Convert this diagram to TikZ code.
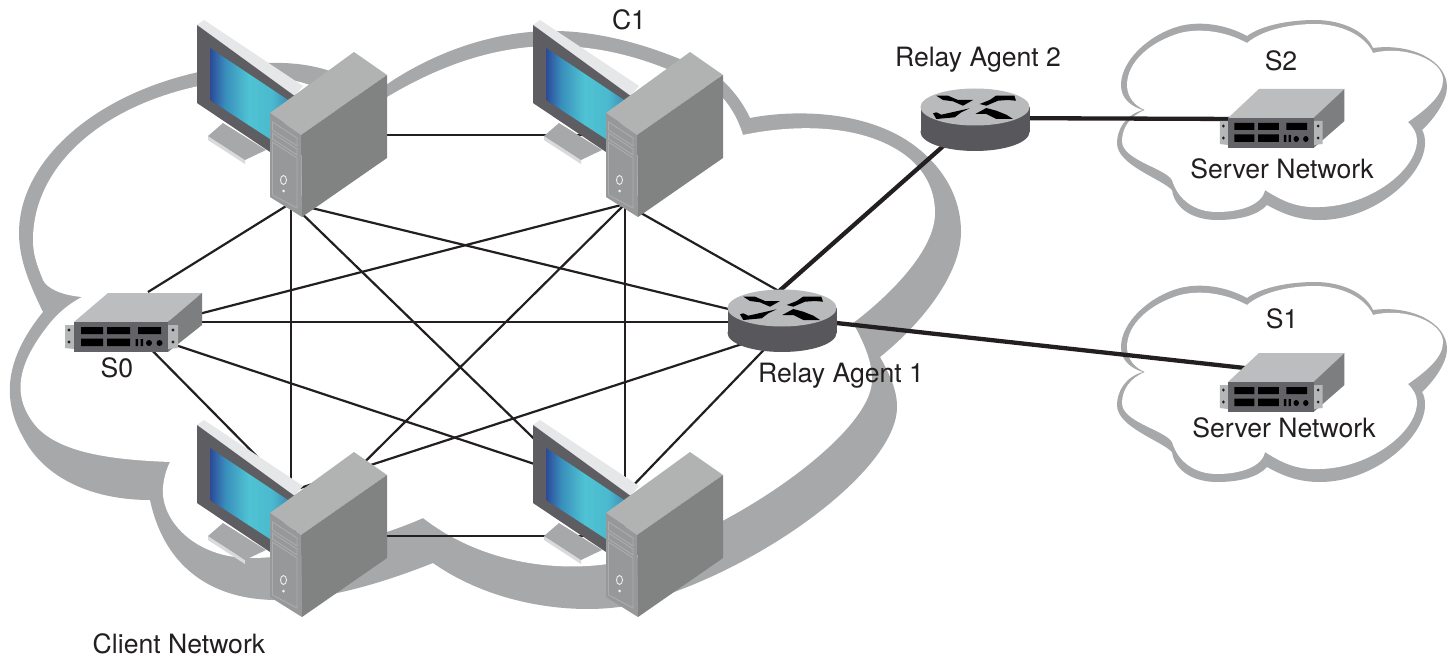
\documentclass[tikz,border=0pt]{standalone}
\usepackage{fontspec}
\setmainfont{TeX Gyre Heros}
\definecolor{band}{HTML}{A7A8AA}
\definecolor{ink}{HTML}{231F20}
\definecolor{framec}{HTML}{5D5D62}
\definecolor{barc}{HTML}{E6E7E9}
\definecolor{towertop}{HTML}{B1B2B2}
\definecolor{towerside}{HTML}{818382}
\definecolor{towerfront}{HTML}{97989A}
\definecolor{towerline}{HTML}{ABACAE}
\definecolor{srvtop}{HTML}{BCBDBF}
\definecolor{srvside}{HTML}{7D7E80}
\definecolor{srvfront}{HTML}{636367}
\definecolor{srvear}{HTML}{B5B6B8}
\definecolor{routertop}{HTML}{B9BABC}
\definecolor{routerside}{HTML}{58585C}
\definecolor{scrA}{HTML}{2B4A9A}
\definecolor{scrB}{HTML}{3A8FBC}
\definecolor{scrC}{HTML}{4FC4D3}
\definecolor{scrD}{HTML}{4BB8CE}
\definecolor{scrE}{HTML}{3C8FB8}
\pgfdeclarehorizontalshading{screenfill}{100bp}{color(0bp)=(scrA); color(25bp)=(scrA); color(35bp)=(scrB); color(50bp)=(scrC); color(65bp)=(scrD); color(75bp)=(scrE); color(100bp)=(scrE)}
\tikzset{
  x=1pt,y=-1pt,
  lan/.style={draw=ink,line width=2.2pt},
  trunk/.style={draw=ink,line width=4.3pt},
  lbl/.style={inner sep=0pt,anchor=base,text=ink,font=\fontsize{26.6}{30}\selectfont},
  computer/.pic={
    % stand
    \fill[barc!80!band] (208,136)--(245,160)--(245,164)--(208,140)--cycle;
    \fill[band] (208,136)--(223,123)--(266,150)--(245,160)--cycle;
    % monitor
    \fill[barc] (197,25)--(204,20)--(303,86)--(293,97)--cycle;
    \fill[framec] (197,25)--(197,103)--(270,152)--(296,97)--cycle;
    \shade[shading=screenfill]
      (210,48)--(210,100)--(270,139)--(288,100)--cycle;
    % tower
    \fill[towertop] (270,113)--(354,52)--(387,75)--(301,135)--cycle;
    \fill[towerside] (301,135)--(387,75)--(387,158)--(302,217)--cycle;
    \fill[towerfront] (270,113)--(301,135)--(302,217)--(270,197)--cycle;
    \draw[towerline,line width=.9pt] (272.5,122)--(297,138)--(297,146)--(272.5,130)--cycle;
    \draw[towerline,line width=.9pt] (272.5,133)--(297,149)--(297,155)--(272.5,139)--cycle;
    \draw[towerline,line width=.9pt] (272.5,142)--(297,158)--(297,208)--(272.5,195)--cycle;
    \draw[white!85!towerfront,line width=.9pt] (283.5,180) ellipse (3 and 4.5);
    \fill[white!85!towerfront] (283.5,191) circle (1.5);
  },
  server/.pic={
    \fill[srvtop] (0,0)--(34,-29)--(128,-29)--(94,0)--cycle;
    \fill[srvside] (94,0)--(128,-29)--(128,3)--(94,30)--cycle;
    \fill[srvear] (-9,3)--(0,3)--(0,27)--(-9,26)--cycle;
    \fill[srvear] (94,3)--(104,3)--(104,26)--(94,27)--cycle;
    \fill[srvfront] (0,0)--(94,0)--(94,30)--(0,30)--cycle;
    \fill[ink] (-5,8) circle (1.6) (-5,20) circle (1.6) (99,8) circle (1.6) (99,20) circle (1.6);
    \fill[black] (7,5) rectangle (29,12) (33,5) rectangle (56,12) (64,5) rectangle (87,12)
      (7,16.5) rectangle (29,24) (33,16.5) rectangle (56,24)
      (61.5,17) rectangle (64,24) (66.5,17) rectangle (69,24);
    \fill[black] (75,21) circle (3) (85.5,21) circle (3);
  },
  router/.pic={
    \fill[routerside] (0,25) ellipse (54.5 and 19);
    \fill[routerside] (-54.5,0) rectangle (54.5,25);
    \fill[routertop] (0,0) ellipse (54.5 and 18.5);
    \fill[black,line join=round] (-38.7,-11.3)--(-27,-11.3)--(-17,-7)--(-2,-7)--(-12,-1.3)--(-22,-5.7)--(-32,-7)--cycle;
    \fill[black,line join=round] (4.7,-3)--(14.7,-7)--(21,-11.3)--(39.3,-11.3)--(41,-6.3)--(33,-7)--(23,-6.3)--(11.3,-1.3)--cycle;
    \fill[black,line join=round] (-42,6.3)--(-38.7,5.3)--(-33.7,7.7)--(-5.3,1.3)--(-13.7,5.3)--(-20.3,10.3)--(-38.7,12)--cycle;
    \fill[black,line join=round] (0.3,7)--(11.3,1)--(21.3,3.7)--(31.3,7.7)--(38,12)--(21.3,12)--(11.3,7)--cycle;
  },
  minicloud/.pic={
    \fill[band] (1247,36) .. controls (1225,24) and (1200,21) .. (1180,26) .. controls (1150,34) and (1121,60) .. (1121,85) .. controls (1121,98) and (1130,106) .. (1143,110)
      .. controls (1125,115) and (1117,130) .. (1117,143) .. controls (1117,165) and (1160,178) .. (1172,190)
      .. controls (1175,210) and (1195,220) .. (1217,220) .. controls (1240,220) and (1258,215) .. (1267,205)
      .. controls (1285,215) and (1300,220) .. (1320,220) .. controls (1375,220) and (1425,175) .. (1425,143) .. controls (1425,137) and (1424,133) .. (1422,130)
      .. controls (1435,118) and (1447,100) .. (1447,87) .. controls (1447,60) and (1410,43) .. (1373,48)
      .. controls (1365,30) and (1340,20) .. (1315,20) .. controls (1290,20) and (1262,25) .. (1247,36) -- cycle;
    \fill[white] (1247,43) .. controls (1225,31) and (1200,28) .. (1180,33) .. controls (1150,42) and (1127,62) .. (1127,85) .. controls (1127,97) and (1135,106) .. (1145,110)
      .. controls (1130,116) and (1122,128) .. (1122,141) .. controls (1122,160) and (1165,168) .. (1172,180)
      .. controls (1178,200) and (1195,212) .. (1217,212) .. controls (1240,212) and (1262,205) .. (1265,190)
      .. controls (1285,203) and (1300,208) .. (1320,207) .. controls (1370,206) and (1417,170) .. (1417,140) .. controls (1417,133) and (1413,127) .. (1408,122)
      .. controls (1428,108) and (1443,95) .. (1443,80) .. controls (1443,60) and (1405,45) .. (1373,53)
      .. controls (1365,35) and (1340,24) .. (1315,24) .. controls (1290,24) and (1262,30) .. (1247,43) -- cycle;
  }
}
\begin{document}
\begin{tikzpicture}
\useasboundingbox (0,0) rectangle (1453,658);
\fill[white] (0,0) rectangle (1453,658);
% client cloud
\fill[band] (43,312) .. controls (30,285) and (19,260) .. (19,233) .. controls (19,150) and (120,70) .. (267,63) .. controls (295,62) and (320,66) .. (340,75)
  -- (360,105) .. controls (400,70) and (470,32) .. (550,31) .. controls (610,30) and (680,55) .. (722,80) .. controls (733,90) and (743,103) .. (750,118)
  .. controls (790,110) and (870,108) .. (920,150) .. controls (950,175) and (961,205) .. (961,232) .. controls (961,275) and (920,325) .. (880,357)
  .. controls (890,375) and (897,390) .. (897,407) .. controls (897,470) and (760,570) .. (640,603) .. controls (590,616) and (500,610) .. (433,563)
  .. controls (390,580) and (330,600) .. (277,600) .. controls (215,600) and (165,570) .. (150,500)
  .. controls (95,500) and (45,480) .. (23,437) .. controls (5,405) and (0,365) .. (43,312) -- cycle;
\fill[white] (82,297) .. controls (60,295) and (47,288) .. (43,280) .. controls (37,265) and (33,255) .. (33,240) .. controls (33,155) and (125,85) .. (260,78) .. controls (285,77) and (310,82) .. (330,95)
  -- (345,125) .. controls (400,85) and (470,47) .. (550,46) .. controls (610,45) and (670,65) .. (722,97) .. controls (732,108) and (739,122) .. (743,135)
  .. controls (790,125) and (860,122) .. (905,155) .. controls (925,170) and (935,190) .. (935,213) .. controls (935,250) and (890,295) .. (853,323)
  .. controls (865,345) and (872,362) .. (872,380) .. controls (872,430) and (750,520) .. (640,557) .. controls (580,575) and (490,570) .. (423,518)
  .. controls (385,535) and (310,558) .. (250,558) .. controls (195,558) and (160,520) .. (163,487) .. controls (164,478) and (166,470) .. (170,462)
  .. controls (120,460) and (60,455) .. (35,425) .. controls (15,400) and (12,370) .. (50,323) .. controls (58,313) and (70,303) .. (82,297) -- cycle;
% server clouds
\pic (cloudS2) at (0,0) {minicloud};
\pic (cloudS1) at (0,262) {minicloud};
% connector ends
\coordinate (tl) at (291,203);
\coordinate (tlr) at (380,135);
\coordinate (tr) at (625,204);
\coordinate (trl) at (600,135);
\coordinate (so) at (133,331);
\coordinate (soc) at (148,292);
\coordinate (som) at (133,322);
\coordinate (bla) at (291,491);
\coordinate (blb) at (291,535);
\coordinate (blc) at (380,536);
\coordinate (bra) at (625,494);
\coordinate (brb) at (625,527);
\coordinate (brc) at (600,536);
\coordinate (ra) at (782,322);
\coordinate (rb) at (782,331);
\coordinate (rc) at (800,303);
\coordinate (rd) at (760,308);
\coordinate (re) at (782,317);
\coordinate (rf) at (975,118);
\coordinate (sa) at (1290,373);
\coordinate (sb) at (1240,119);
% thin links
\draw[lan] (tlr)--(trl);
\draw[lan] (tl)--(soc);
\draw[lan] (tl)--(bla);
\draw[lan] (tl)--(brb);
\draw[lan] (tl)--(ra);
\draw[lan] (tr)--(so);
\draw[lan] (tr)--(blb);
\draw[lan] (tr)--(bra);
\draw[lan] (tr)--(rc);
\draw[lan] (som)--(ra);
\draw[lan] (so)--(bra);
\draw[lan] (so)--(bla);
\draw[lan] (bla)--(rb);
\draw[lan] (blc)--(brc);
\draw[lan] (bra)--(rb);
% thick links
\draw[trunk] (rd)--(rf);
\draw[trunk] (re)--(sa);
\draw[trunk] (rf)--(sb);
% devices
\pic (pcTL) at (0,0) {computer};
\pic (pcTR) at (336,0) {computer};
\pic (pcBL) at (0,400) {computer};
\pic (pcBR) at (336,400) {computer};
\pic (srvS0) at (74,322) {server};
\begin{scope}[shift={(1228,118)},xscale=.91]
\pic[transform shape] (srvS2) at (0,0) {server};
\end{scope}
\begin{scope}[shift={(1228,382)},xscale=.91]
\pic[transform shape] (srvS1) at (0,0) {server};
\end{scope}
\pic (relayA) at (782,308) {router};
\pic (relayB) at (975,107) {router};
% labels
\node[lbl] (lC1) at (629,30) {C1};
\node[lbl] (lR2) at (978,67) {Relay Agent 2};
\node[lbl] (lS2) at (1281,71) {S2};
\node[lbl] (lN2) at (1282,178) {Server Network};
\node[lbl] (lS1) at (1282,328) {S1};
\node[lbl] (lN1) at (1284,437) {Server Network};
\node[lbl] (lS0) at (117,377) {S0};
\node[lbl] (lR1) at (841,382) {Relay Agent 1};
\node[lbl] (lCN) at (179,653) {Client Network};
\end{tikzpicture}
\end{document}
